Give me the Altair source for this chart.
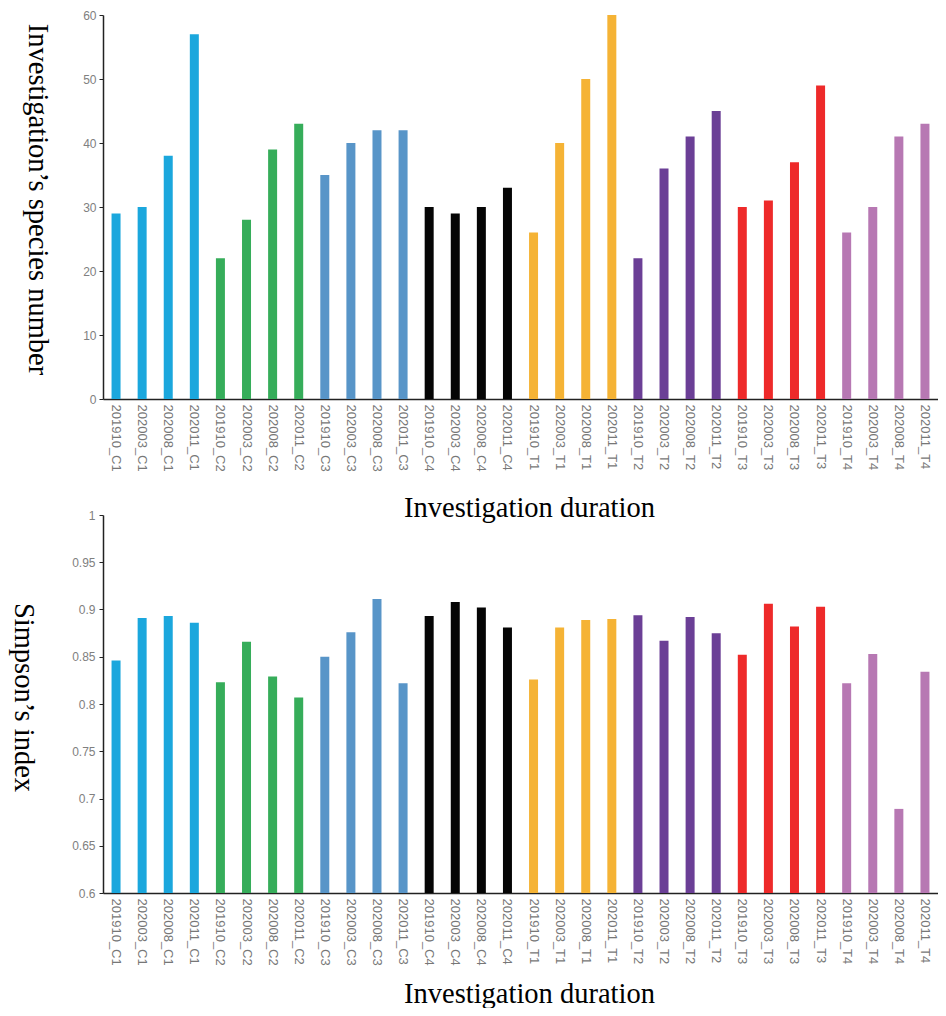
import altair as alt
import pandas as pd

sample_labels = [
    "201910_C1", "202003_C1", "202008_C1", "202011_C1",
    "201910_C2", "202003_C2", "202008_C2", "202011_C2",
    "201910_C3", "202003_C3", "202008_C3", "202011_C3",
    "201910_C4", "202003_C4", "202008_C4", "202011_C4",
    "201910_T1", "202003_T1", "202008_T1", "202011_T1",
    "201910_T2", "202003_T2", "202008_T2", "202011_T2",
    "201910_T3", "202003_T3", "202008_T3", "202011_T3",
    "201910_T4", "202003_T4", "202008_T4", "202011_T4",
]
species_number = [
    29, 30, 38, 57,
    22, 28, 39, 43,
    35, 40, 42, 42,
    30, 29, 30, 33,
    26, 40, 50, 60,
    22, 36, 41, 45,
    30, 31, 37, 49,
    26, 30, 41, 43,
]
simpson_index = [
    0.846, 0.891, 0.893, 0.886,
    0.823, 0.866, 0.829, 0.807,
    0.850, 0.876, 0.911, 0.822,
    0.893, 0.908, 0.902, 0.881,
    0.826, 0.881, 0.889, 0.890,
    0.894, 0.867, 0.892, 0.875,
    0.852, 0.906, 0.882, 0.903,
    0.822, 0.853, 0.689, 0.834,
]
group_names = ["C1", "C2", "C3", "C4", "T1", "T2", "T3", "T4"]
group_colors = ["#1BA7DD", "#36AD5A", "#5895C8", "#050505",
                "#F5B335", "#6B3F96", "#EE2A2A", "#B778B3"]
species_ticks = [0, 10, 20, 30, 40, 50, 60]
simpson_ticks = [0.6, 0.65, 0.7, 0.75, 0.8, 0.85, 0.9, 0.95, 1.0]

df = pd.DataFrame({
    "sample": sample_labels,
    "species": species_number,
    "simpson": simpson_index,
    "group": [s.split("_")[1] for s in sample_labels],
})

serif = "Liberation Serif"
sans = "Liberation Sans"

color = alt.Color("group:N", scale=alt.Scale(domain=group_names, range=group_colors), legend=None)


def x_axis(title_y):
    return alt.X(
        "sample:N", sort=sample_labels,
        axis=alt.Axis(
            title="Investigation duration", labelAngle=90, ticks=False, labelPadding=5,
            labelFontSize=13, labelColor="#777777", labelFont=sans,
            titleX=426, titleY=title_y, titleAlign="center", titleBaseline="middle",
            titleFont=serif, titleFontSize=28.5,
            titleFontWeight="normal", titleColor="#000000",
            domainColor="#222222", domainWidth=1.5,
        ),
    )


top = alt.Chart(df).mark_bar(size=9).encode(
    x=x_axis(108),
    y=alt.Y(
        "species:Q", scale=alt.Scale(domain=[0, 60], nice=False),
        axis=alt.Axis(
            values=species_ticks, format="d", grid=False,
            title="Investigation’s species number", titleAngle=90, titleX=-66, titleY=184,
            titleAlign="center", titleBaseline="middle", titleFont=serif, titleFontSize=28.5,
            titleFontWeight="normal", titleColor="#000000",
            labelFontSize=12, labelColor="#808080", labelFont=sans, labelPadding=3,
            tickSize=4, tickColor="#222222", domainColor="#222222", domainWidth=1.5,
        ),
    ),
    color=color,
).properties(width=835, height=384)

bottom = alt.Chart(df).mark_bar(size=9).encode(
    x=x_axis(100.5),
    y=alt.Y(
        "simpson:Q", scale=alt.Scale(domain=[0.6, 1.0], nice=False, zero=False),
        axis=alt.Axis(
            values=simpson_ticks, format="~g", grid=False,
            title="Simpson’s index", titleAngle=90, titleX=-80, titleY=182,
            titleAlign="center", titleBaseline="middle", titleFont=serif, titleFontSize=28.5,
            titleFontWeight="normal", titleColor="#000000",
            labelFontSize=12, labelColor="#808080", labelFont=sans, labelPadding=4,
            tickSize=4, tickColor="#222222", domainColor="#222222", domainWidth=1.5,
        ),
    ),
    y2=alt.datum(0.6),
    color=color,
).properties(width=835, height=378)

chart = alt.vconcat(top, bottom, spacing=116, bounds="flush").properties(
    padding={"left": 0, "top": 1, "right": 0, "bottom": 0}
).configure_view(stroke=None)

chart.save("out.html", embed_options={"renderer": "svg", "actions": False})
